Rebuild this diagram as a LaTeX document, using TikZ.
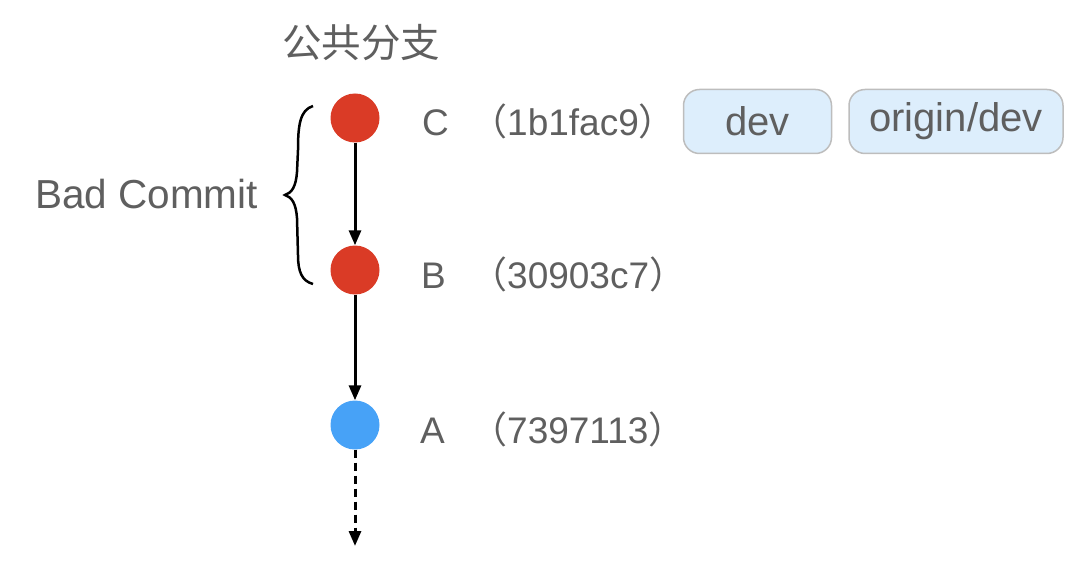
\documentclass[tikz,border=0pt]{standalone}
\usepackage{fontspec}
\setmainfont{Liberation Sans}
\newfontfamily\cjk{Noto Sans CJK SC}
\usetikzlibrary{arrows.meta}
\definecolor{txt}{HTML}{5F5F5F}
\definecolor{redc}{HTML}{DA3B26}
\definecolor{bluec}{HTML}{47A2F7}
\definecolor{tagfill}{HTML}{DDEEFC}
\definecolor{tagdraw}{HTML}{BDBDBD}
\tikzset{
  commit/.style={circle, minimum size=49pt, inner sep=0pt},
  lbl/.style={text=txt, font=\fontsize{37}{40}\selectfont, inner sep=0pt, anchor=base west},
  tag/.style={draw=tagdraw, line width=1.5pt, fill=tagfill, rounded corners=16pt, minimum height=64pt, text=txt, font=\fontsize{40}{42}\selectfont, inner sep=0pt},
  link/.style={line width=3pt, -{Triangle[length=15pt,width=12pt]}},
}
\begin{document}
\begin{tikzpicture}[x=1pt,y=-1pt]
\useasboundingbox (0,0) rectangle (1092,572);
\node[lbl, font=\cjk\fontsize{39.5}{42}\selectfont] (title) at (282,58) {公共分支};
\node[commit, fill=redc] (C) at (355,118) {};
\node[commit, fill=redc] (B) at (355,270) {};
\node[commit, fill=bluec] (A) at (355,425) {};
\coordinate (end) at (355,546);
\draw[link] (C) -- (B);
\draw[link] (B) -- (A);
\draw[link, dash pattern=on 8pt off 5pt] (A) -- (end);
\node[lbl] (Cl) at (422,136) {C};
\node[lbl] (Bl) at (421,288) {B};
\node[lbl] (Al) at (420,443) {A};
\node[lbl] (Ch) at (470,136) {{\cjk （}1b1fac9{\cjk ）}};
\node[lbl] (Bh) at (470,288) {{\cjk （}30903c7{\cjk ）}};
\node[lbl] (Ah) at (470,443) {{\cjk （}7397113{\cjk ）}};
\node[tag, minimum width=148pt] (dev) at (757.5,121.5) {\raisebox{-2pt}{dev}};
\node[tag, minimum width=214pt] (odev) at (956,121.5) {\raisebox{-2pt}{origin/dev}};
\node[lbl, font=\fontsize{40.5}{42}\selectfont] (bad) at (35,209) {Bad Commit};
\draw[line width=2.5pt] (313,106) .. controls (300,110) and (298,125) .. (298,150)
  -- (297,172) .. controls (296,186) and (292,193) .. (285,195)
  .. controls (292,197) and (296,204) .. (297,218)
  -- (298,255) .. controls (298,272) and (302,281) .. (313,284);
\end{tikzpicture}
\end{document}
